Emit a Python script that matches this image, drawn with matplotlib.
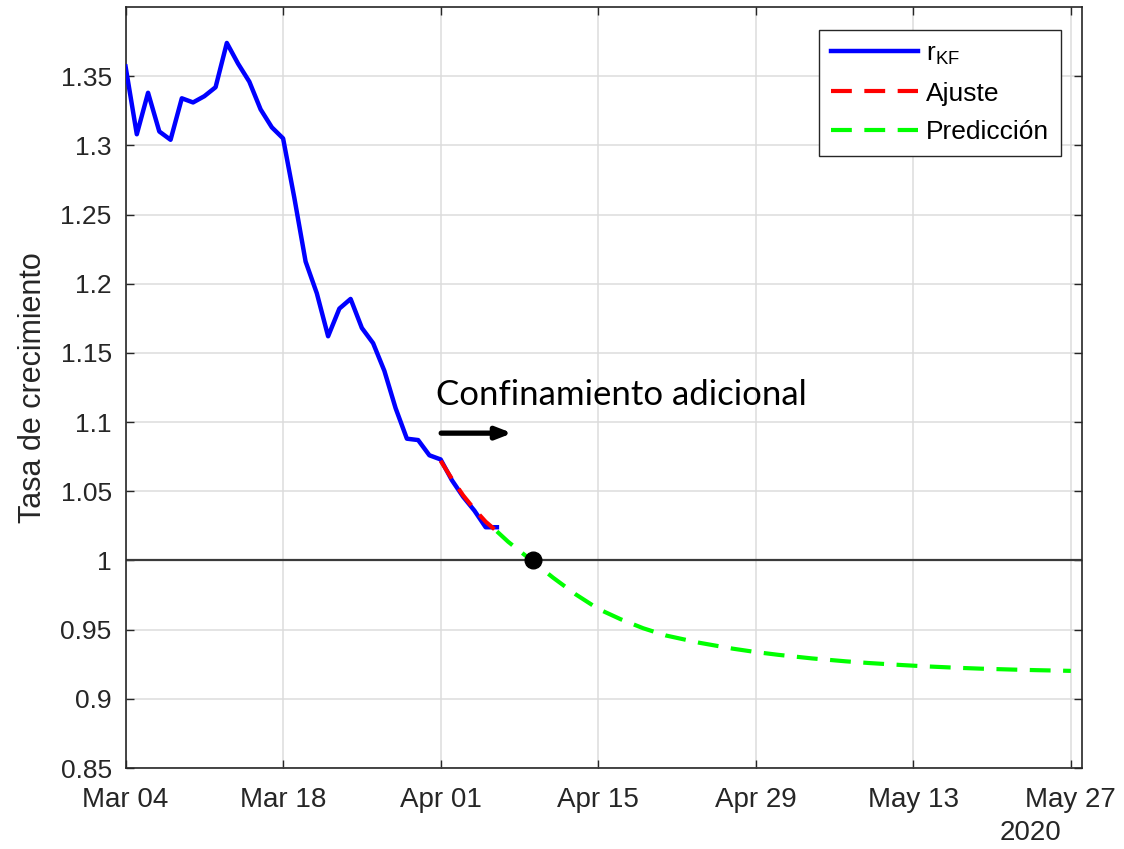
import pandas as pd
import matplotlib
matplotlib.use("Agg")
import matplotlib.pyplot as plt
import matplotlib.dates as mdates

# dias contados desde el 4 de marzo de 2020
start = pd.Timestamp("2020-03-04")

# tasa de crecimiento estimada (filtro de Kalman)
kf_days = list(range(34))
kf_vals = [1.357, 1.308, 1.338, 1.310, 1.304, 1.334, 1.331, 1.3355, 1.342, 1.374,
           1.359, 1.346, 1.326, 1.313, 1.305, 1.262, 1.216, 1.193, 1.162, 1.182,
           1.189, 1.168, 1.157, 1.137, 1.110, 1.088, 1.087, 1.076, 1.073, 1.058,
           1.046, 1.036, 1.024, 1.024]

# ajuste
fit_days = [28, 29, 30, 31, 32, 33]
fit_vals = [1.072, 1.059, 1.047, 1.037, 1.028, 1.021]

# prediccion
pred_days = [33, 34, 35, 36, 37, 38, 40, 42, 44, 46, 48, 51, 54, 56, 58, 61,
             64, 66, 69, 71, 74, 76, 79, 81, 84]
pred_vals = [1.021, 1.0135, 1.007, 1.0005, 0.994, 0.9875, 0.9755, 0.965, 0.9575,
             0.951, 0.9458, 0.9405, 0.9362, 0.9338, 0.9318, 0.9292, 0.9271, 0.9259,
             0.9244, 0.9235, 0.9224, 0.9218, 0.9211, 0.9207, 0.9202]

# cruce con r = 1
cross_day = 36.2
cross_val = 1.0

yticks = [0.85, 0.9, 0.95, 1, 1.05, 1.1, 1.15, 1.2, 1.25, 1.3, 1.35]
ytick_labels = ["0.85", "0.9", "0.95", "1", "1.05", "1.1", "1.15", "1.2", "1.25", "1.3", "1.35"]


def to_dates(days):
    return start + pd.to_timedelta(days, unit="D")


plt.rcParams["font.family"] = ["Liberation Sans", "DejaVu Sans"]

fig = plt.figure(figsize=(11.24, 8.49), dpi=100)
ax = fig.add_axes([0.1117, 0.0954, 0.851, 0.8964])

ax.axhline(1.0, color="#3a3a3a", lw=1.6, zorder=2)
ax.plot(to_dates(kf_days), kf_vals, color="#0000ff", lw=3.2, label=r"r$_{\mathregular{KF}}$", zorder=3)
ax.plot(to_dates(fit_days), fit_vals, color="#ff0000", lw=3, ls=(0, (5, 3)), label="Ajuste", zorder=4)
ax.plot(to_dates(pred_days), pred_vals, color="#00ff00", lw=3, ls=(0, (5, 3)), label="Predicción", zorder=4)
ax.plot(to_dates([cross_day]), [cross_val], "o", color="black", ms=12, zorder=5)

ax.set_xlim(start, start + pd.Timedelta(days=85))
ax.set_ylim(0.85, 1.40)
ax.set_yticks(yticks)
ax.set_yticklabels(ytick_labels)
ax.set_xticks(to_dates(list(range(0, 85, 14))))
ax.xaxis.set_major_formatter(mdates.DateFormatter("%b %d"))

ax.grid(True, color="#dcdcdc", lw=1.1)
ax.set_axisbelow(True)
ax.tick_params(direction="in", length=6, width=1, colors="#262626", labelsize=20,
               top=True, right=True)
ax.tick_params(axis="x", pad=14)
ax.tick_params(axis="y", pad=10, labelsize=19)
for sp in ax.spines.values():
    sp.set_color("#262626")
    sp.set_linewidth(1.2)

ax.set_ylabel("Tasa de crecimiento", fontsize=22, color="#262626", labelpad=9)
ax.text(0.946, -0.086, "2020", transform=ax.transAxes, fontsize=20, color="#262626",
        ha="center", va="center")

leg = ax.legend(loc="upper right", bbox_to_anchor=(0.978, 0.97), fontsize=19,
                handlelength=3.3, handletextpad=0.3, borderpad=0.45, labelspacing=0.55,
                borderaxespad=0, fancybox=False, framealpha=1)
leg.get_frame().set_edgecolor("#262626")
leg.get_frame().set_linewidth(1.0)

# anotacion
ax.text(to_dates([27.6])[0], 1.1125, "Confinamiento adicional", family=["Lato", "DejaVu Sans"],
        fontsize=25, color="black", ha="left", va="baseline")
ax.annotate("", xy=(to_dates([34.6])[0], 1.092), xytext=(to_dates([27.8])[0], 1.092),
            arrowprops=dict(arrowstyle="-|>,head_length=0.9,head_width=0.35", color="black", lw=3.8))

fig.savefig("out.png", dpi=100)
